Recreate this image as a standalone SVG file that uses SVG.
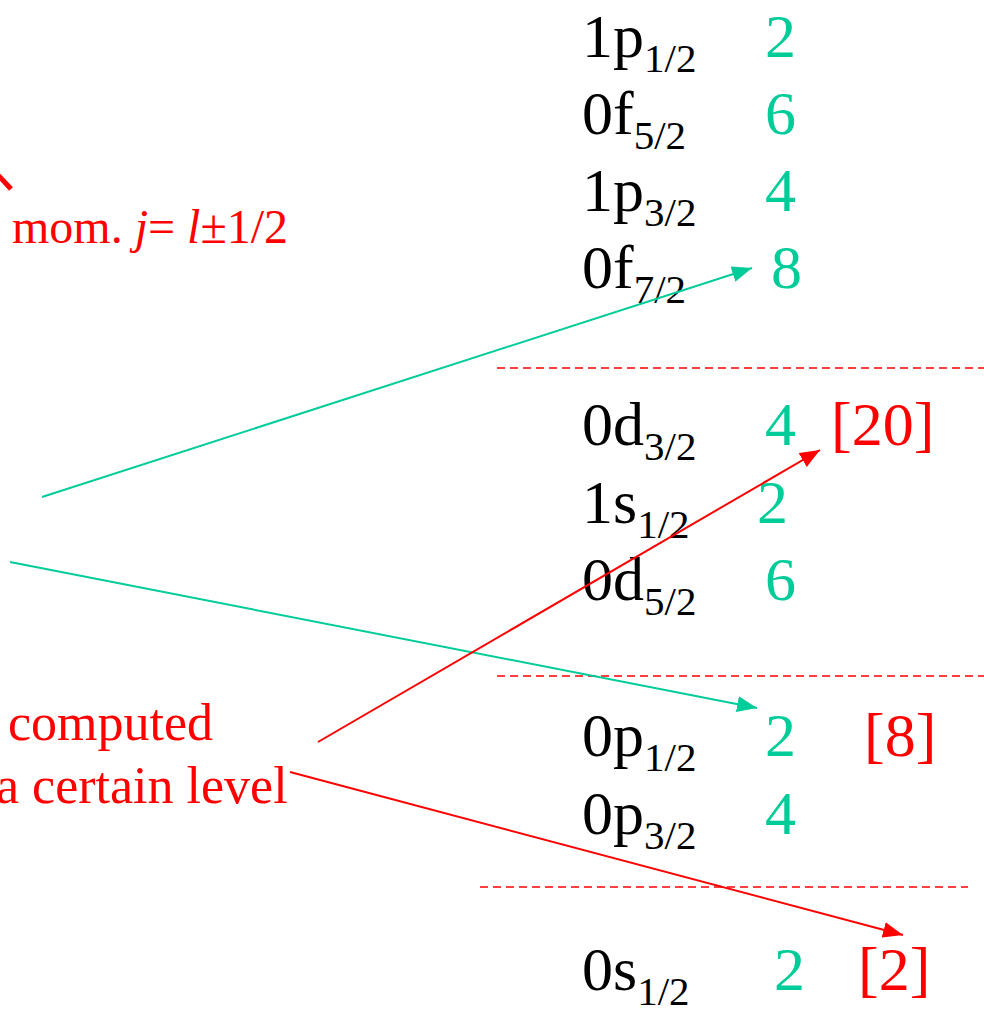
<svg xmlns="http://www.w3.org/2000/svg" width="984" height="1013" viewBox="0 0 984 1013">
<style>
.lab{font-size:62px;fill:#000}
.sub{font-size:41px}
.num{font-size:62px;fill:#00cc99}
.tot{font-size:62px;fill:#ff0000}
.note{fill:#ff0000}
.dash{stroke:#ff0000;stroke-width:1.5;stroke-dasharray:8 5;fill:none}
.g{stroke:#00cc99;stroke-width:2;fill:none}
.r{stroke:#ff0000;stroke-width:2;fill:none}
</style>
<defs>
<marker id="ag" markerUnits="userSpaceOnUse" markerWidth="22" markerHeight="16" refX="20" refY="8" orient="auto"><path d="M0,0 L20,8 L0,16 z" fill="#00cc99"/></marker>
<marker id="ar" markerUnits="userSpaceOnUse" markerWidth="22" markerHeight="16" refX="20" refY="8" orient="auto"><path d="M0,0 L20,8 L0,16 z" fill="#ff0000"/></marker>
</defs>
<rect width="984" height="1013" fill="#fff"/>
<g id="levels" font-family="Liberation Serif, serif">
<g id="l1p12"><text class="lab" x="582" y="57">1p<tspan class="sub" dy="15">1/2</tspan></text><text class="num" x="765" y="57">2</text></g>
<g id="l0f52"><text class="lab" x="582" y="134">0f<tspan class="sub" dy="15">5/2</tspan></text><text class="num" x="765" y="134">6</text></g>
<g id="l1p32"><text class="lab" x="582" y="211">1p<tspan class="sub" dy="15">3/2</tspan></text><text class="num" x="765" y="211">4</text></g>
<g id="l0f72"><text class="lab" x="582" y="288">0f<tspan class="sub" dy="15">7/2</tspan></text><text class="num" x="771" y="288">8</text></g>
<g id="l0d32"><text class="lab" x="582" y="445">0d<tspan class="sub" dy="15">3/2</tspan></text><text class="num" x="765" y="445">4</text><text class="tot" x="831" y="445">[20]</text></g>
<g id="l1s12"><text class="lab" x="582" y="523">1s<tspan class="sub" dy="15">1/2</tspan></text><text class="num" x="757" y="523">2</text></g>
<g id="l0d52"><text class="lab" x="582" y="600">0d<tspan class="sub" dy="15">5/2</tspan></text><text class="num" x="765" y="600">6</text></g>
<g id="l0p12"><text class="lab" x="582" y="756">0p<tspan class="sub" dy="15">1/2</tspan></text><text class="num" x="765" y="756">2</text><text class="tot" x="864" y="756">[8]</text></g>
<g id="l0p32"><text class="lab" x="582" y="834">0p<tspan class="sub" dy="15">3/2</tspan></text><text class="num" x="765" y="834">4</text></g>
<g id="l0s12"><text class="lab" x="582" y="990">0s<tspan class="sub" dy="15">1/2</tspan></text><text class="num" x="774" y="990">2</text><text class="tot" x="858" y="990">[2]</text></g>
</g>
<g id="separators">
<line class="dash" x1="497" y1="368" x2="984" y2="368"/>
<line class="dash" x1="497" y1="676" x2="984" y2="676"/>
<line class="dash" x1="480" y1="887" x2="968" y2="887"/>
</g>
<g id="notes" font-family="Liberation Serif, serif">
<text class="note" x="12" y="243" font-size="48">mom. <tspan font-style="italic">j</tspan>= <tspan font-style="italic">l</tspan>±1/2</text>
<text class="note" x="8" y="740" font-size="52">computed</text>
<text class="note" x="-4" y="803" font-size="52">a certain level</text>
<line x1="-2" y1="175" x2="11" y2="189" stroke="#ff0000" stroke-width="5"/>
</g>
<g id="connectors">
<line class="g" x1="42" y1="497" x2="752" y2="268" marker-end="url(#ag)"/>
<line class="g" x1="10" y1="562" x2="757" y2="708" marker-end="url(#ag)"/>
<line class="r" x1="318" y1="742" x2="820" y2="450" marker-end="url(#ar)"/>
<line class="r" x1="290" y1="772" x2="903" y2="935" marker-end="url(#ar)"/>
</g>
</svg>
